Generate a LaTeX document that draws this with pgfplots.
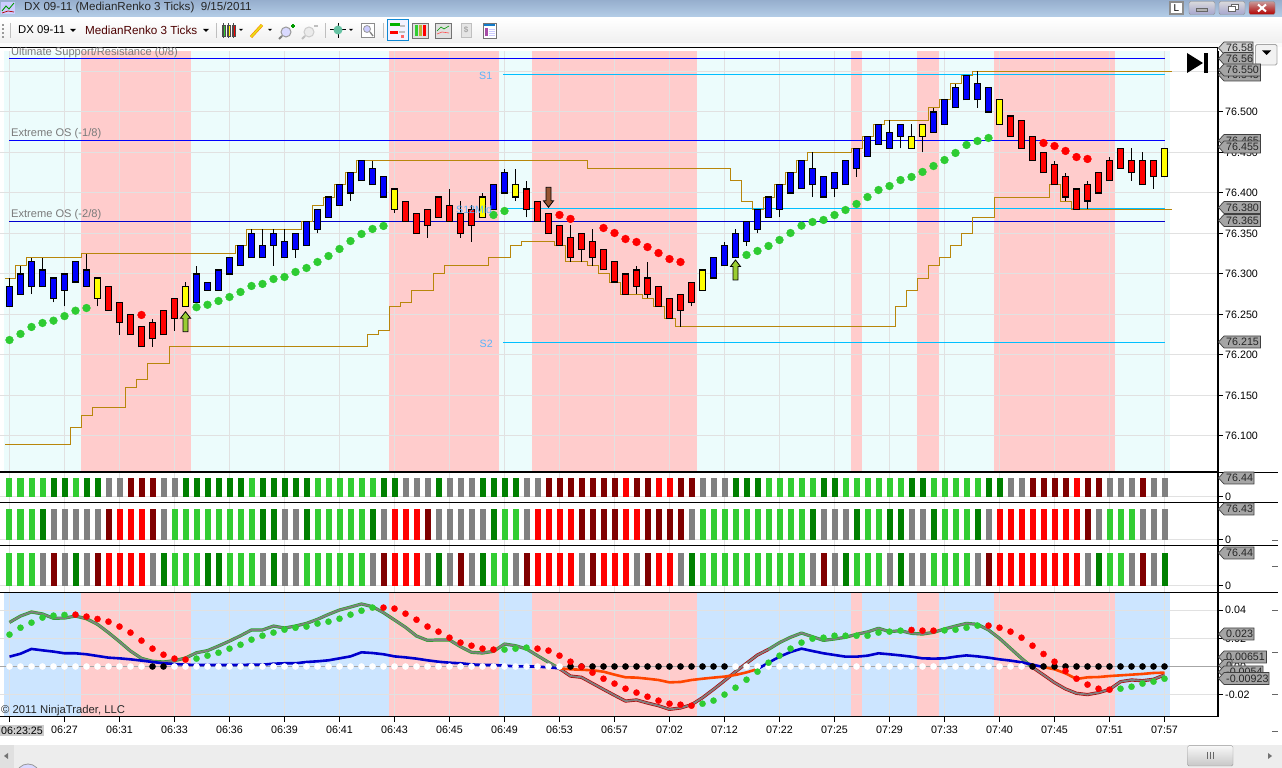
\documentclass[border=0pt]{standalone}
\usepackage{fontspec}
\usepackage{pgfplots}
\usepackage{pgfplotstable}
\pgfplotsset{compat=1.18}
\setmainfont{Liberation Sans}
\definecolor{pinkb}{RGB}{255,204,204}
\definecolor{cyanb}{RGB}{236,252,252}
\definecolor{blueb}{RGB}{204,229,255}
\definecolor{gridc}{RGB}{225,225,225}
\definecolor{gold}{RGB}{184,134,11}
\definecolor{sky}{RGB}{0,191,255}
\definecolor{lab}{RGB}{90,180,250}
\definecolor{dgreen}{RGB}{46,204,50}
\definecolor{cL}{RGB}{50,205,50}
\definecolor{cD}{RGB}{0,128,0}
\definecolor{cG}{RGB}{128,128,128}
\definecolor{cM}{RGB}{128,0,0}
\definecolor{cR}{RGB}{255,0,0}
\definecolor{orange1}{RGB}{255,69,0}
\definecolor{navy1}{RGB}{0,0,205}
\definecolor{tagc}{RGB}{165,165,165}
\definecolor{ygreen}{RGB}{154,205,50}
\definecolor{sienna1}{RGB}{150,85,50}
\definecolor{cc1}{RGB}{0,0,255}
\definecolor{cc2}{RGB}{255,0,0}
\definecolor{cc3}{RGB}{255,255,0}
\newcommand\tf{\fontsize{10.7}{12}\selectfont}

\pgfplotstableread{
i v
0 76.2185
1 76.226
2 76.2346
3 76.2395
4 76.2424
5 76.248
6 76.2547
7 76.258
17 76.259
18 76.262
19 76.2667
20 76.2716
21 76.2778
22 76.2852
23 76.2877
24 76.2938
25 76.2963
26 76.3025
27 76.3074
28 76.3148
29 76.3222
30 76.3309
31 76.3407
32 76.3494
33 76.3556
34 76.3593
44 76.3729
45 76.3778
67 76.3235
68 76.3284
69 76.3346
70 76.342
71 76.3506
72 76.3597
73 76.3642
74 76.3667
75 76.3728
76 76.379
77 76.3864
78 76.395
79 76.4037
80 76.4086
81 76.416
82 76.4198
83 76.426
84 76.4333
85 76.4407
86 76.4494
87 76.4593
88 76.4642
89 76.4679
}\greendots
\pgfplotstableread{
i v
12 76.2494
50 76.3729
51 76.368
54 76.3568
55 76.3506
56 76.3432
57 76.3395
58 76.3333
59 76.3259
60 76.3185
61 76.3148
94 76.4617
95 76.458
96 76.4519
97 76.4444
98 76.442
}\reddots

% colour codes of the three bar panels: 1 light green, 2 dark green, 3 grey, 4 maroon, 5 red
\pgfplotstableread{
i p q r
0 1 1 1
1 1 1 1
2 1 1 1
3 1 2 3
4 2 3 4
5 2 3 3
6 1 3 2
7 2 3 3
8 2 3 4
9 3 4 5
10 3 5 5
11 4 5 5
12 4 5 5
13 4 4 3
14 3 3 2
15 3 1 1
16 2 1 1
17 2 1 1
18 2 1 2
19 2 1 2
20 2 1 1
21 2 1 1
22 1 1 1
23 2 2 3
24 2 2 2
25 2 3 3
26 2 3 3
27 2 2 1
28 1 1 1
29 1 1 1
30 1 1 1
31 1 1 1
32 1 1 1
33 1 2 3
34 2 3 4
35 2 5 5
36 3 5 5
37 3 5 5
38 3 4 3
39 2 3 2
40 3 3 3
41 3 3 4
42 3 3 3
43 2 3 2
44 2 2 1
45 2 1 1
46 2 1 3
47 3 3 4
48 3 5 5
49 4 5 5
50 4 5 5
51 4 5 5
52 4 4 3
53 4 4 4
54 4 4 5
55 4 4 5
56 5 5 5
57 4 5 3
58 4 4 4
59 5 4 5
60 5 4 5
61 4 4 3
62 4 3 2
63 3 1 1
64 3 1 1
65 3 1 1
66 2 1 1
67 2 1 1
68 2 1 1
69 1 1 1
70 1 1 1
71 1 1 1
72 1 1 1
73 1 2 3
74 2 3 4
75 2 3 3
76 1 3 2
77 1 2 1
78 1 1 1
79 1 1 1
80 1 2 3
81 1 2 2
82 2 3 3
83 2 3 3
84 1 2 1
85 1 1 1
86 1 1 1
87 1 1 1
88 1 2 3
89 2 3 4
90 2 5 5
91 3 5 5
92 3 5 5
93 4 5 5
94 4 5 5
95 4 5 5
96 4 5 5
97 5 5 5
98 4 4 3
99 4 3 2
100 3 1 1
101 3 1 1
102 3 1 3
103 4 3 4
104 3 3 3
105 3 3 2
}\barcodes

% lower panel: m main line, s signal line, d dots, c dot colour, z zero-dot colour (0 white, 1 black)
\pgfplotstableread{
i m s d c z
0 .0314 .0070 .0227 1 0
1 .0359 .0091 .0276 1 0
2 .0388 .0125 .0312 1 0
3 .0374 .0115 .0348 1 0
4 .0343 .0106 .0362 1 0
5 .0345 .0094 .0367 1 0
6 .0359 .0094 .0369 2 0
7 .0340 .0087 .0355 2 0
8 .0300 .0075 .0338 2 0
9 .0241 .0063 .0319 2 0
10 .0177 .0058 .0284 2 0
11 .0110 .0051 .0241 2 0
12 .0058 .0042 .0184 2 0
13 .0037 .0032 .0127 2 1
14 .0032 .0023 .0084 2 1
15 .0042 .0018 .0056 2 0
16 .0060 .0013 .0049 2 0
17 .0098 .0011 .0056 1 0
18 .0113 .0011 .0077 1 0
19 .0146 .0011 .0098 1 0
20 .0181 .0011 .0127 1 0
21 .0219 .0011 .0155 1 0
22 .0260 .0013 .0191 1 0
23 .0260 .0013 .0219 1 0
24 .0288 .0020 .0241 1 0
25 .0274 .0023 .0262 1 0
26 .0288 .0023 .0276 1 0
27 .0307 .0032 .0284 1 0
28 .0336 .0037 .0305 1 0
29 .0371 .0044 .0319 1 0
30 .0402 .0058 .0340 1 0
31 .0423 .0072 .0369 1 0
32 .0445 .0101 .0397 1 0
33 .0426 .0096 .0419 1 0
34 .0383 .0087 .0419 2 0
35 .0331 .0072 .0412 2 0
36 .0279 .0065 .0376 2 0
37 .0217 .0056 .0333 2 0
38 .0186 .0044 .0284 2 0
39 .0189 .0034 .0248 2 0
40 .0189 .0027 .0205 2 0
41 .0141 .0023 .0170 2 0
42 .0101 .0015 .0148 2 0
43 .0096 .0011 .0127 2 0
44 .0108 .0011 .0120 2 0
45 .0160 .0006 .0120 1 0
46 .0148 .0001 .0127 1 0
47 .0125 .0001 .0134 1 0
48 .0077 -.0001 .0127 2 0
49 .0030 -.0006 .0113 2 0
50 -.0015 -.0013 .0077 2 0
51 -.0068 -.0020 .0034 2 1
52 -.0077 -.0023 -.0001 2 1
53 -.0120 -.0027 -.0044 2 1
54 -.0163 -.0037 -.0087 2 1
55 -.0205 -.0058 -.0122 2 1
56 -.0246 -.0077 -.0158 2 1
57 -.0238 -.0079 -.0186 2 1
58 -.0260 -.0087 -.0215 2 1
59 -.0279 -.0096 -.0243 2 1
60 -.0305 -.0113 -.0265 2 1
61 -.0295 -.0110 -.0272 2 1
62 -.0272 -.0096 -.0279 2 1
63 -.0222 -.0087 -.0265 1 1
64 -.0163 -.0079 -.0243 1 1
65 -.0101 -.0072 -.0200 1 1
66 -.0037 -.0060 -.0151 1 0
67 .0023 -.0042 -.0094 1 0
68 .0082 -.0018 -.0037 1 0
69 .0122 .0027 .0027 1 0
70 .0170 .0070 .0077 1 0
71 .0208 .0103 .0127 1 0
72 .0238 .0127 .0170 1 0
73 .0212 .0110 .0198 1 0
74 .0186 .0094 .0205 1 0
75 .0196 .0082 .0219 1 0
76 .0208 .0070 .0219 1 0
77 .0229 .0070 .0219 1 0
78 .0246 .0077 .0219 1 0
79 .0272 .0094 .0241 1 0
80 .0248 .0087 .0248 1 0
81 .0255 .0079 .0255 1 0
82 .0236 .0070 .0260 2 0
83 .0231 .0058 .0255 2 0
84 .0243 .0056 .0255 2 0
85 .0267 .0058 .0257 1 0
86 .0288 .0070 .0262 1 0
87 .0307 .0079 .0276 1 0
88 .0300 .0072 .0291 1 0
89 .0260 .0063 .0291 2 0
90 .0200 .0051 .0276 2 0
91 .0129 .0042 .0248 2 0
92 .0058 .0030 .0205 2 0
93 -.0006 .0013 .0148 2 1
94 -.0060 -.0004 .0089 2 1
95 -.0115 -.0020 .0034 2 1
96 -.0160 -.0049 -.0032 2 1
97 -.0191 -.0089 -.0087 2 1
98 -.0200 -.0077 -.0129 2 1
99 -.0186 -.0075 -.0158 2 1
100 -.0163 -.0068 -.0165 2 1
101 -.0108 -.0063 -.0158 1 1
102 -.0096 -.0058 -.0144 1 1
103 -.0101 -.0053 -.0122 1 1
104 -.0091 -.0046 -.0108 1 1
105 -.0060 -.0044 -.0087 1 1
}\osc

\pgfplotstableread{
x y
-0.38 76.295
0.53 76.31
1.53 76.32
6.53 76.325
20.53 76.335
21.53 76.355
26.53 76.365
27.53 76.385
28.53 76.395
29.53 76.41
30.53 76.425
31.53 76.44
52.53 76.43
65.53 76.415
66.53 76.39
67.53 76.38
68.53 76.395
69.53 76.41
70.53 76.425
71.53 76.44
72.53 76.45
76.53 76.455
77.53 76.47
78.53 76.485
79.53 76.49
83.53 76.505
84.53 76.515
85.53 76.535
86.53 76.545
87.53 76.55
105.65 76.55
}\upgold
\pgfplotstableread{
x y
-0.38 76.09
5.53 76.11
6.53 76.125
7.53 76.135
10.53 76.16
11.53 76.17
12.53 76.19
14.53 76.21
32.53 76.225
33.53 76.23
34.53 76.26
35.53 76.265
36.53 76.28
38.53 76.30
39.53 76.31
43.53 76.32
45.53 76.335
46.53 76.34
49.53 76.335
50.53 76.315
52.53 76.31
53.53 76.30
54.53 76.29
55.53 76.275
57.53 76.27
58.53 76.26
59.53 76.245
60.53 76.235
80.53 76.26
81.53 76.28
82.53 76.295
83.53 76.31
84.53 76.32
85.53 76.335
86.53 76.35
87.53 76.37
89.53 76.395
94.53 76.41
95.53 76.39
96.53 76.38
105.65 76.38
}\logold

\pgfdeclareplotmark{uparr}{\pgfpathmoveto{\pgfpoint{0pt}{0pt}}\pgfpathlineto{\pgfpoint{5pt}{-6.5pt}}\pgfpathlineto{\pgfpoint{2.5pt}{-6.5pt}}\pgfpathlineto{\pgfpoint{2.5pt}{-20pt}}\pgfpathlineto{\pgfpoint{-2.5pt}{-20pt}}\pgfpathlineto{\pgfpoint{-2.5pt}{-6.5pt}}\pgfpathlineto{\pgfpoint{-5pt}{-6.5pt}}\pgfpathclose\pgfusepathqfillstroke}
\pgfdeclareplotmark{dnarr}{\pgfpathmoveto{\pgfpoint{0pt}{0pt}}\pgfpathlineto{\pgfpoint{5pt}{6.5pt}}\pgfpathlineto{\pgfpoint{2.5pt}{6.5pt}}\pgfpathlineto{\pgfpoint{2.5pt}{20pt}}\pgfpathlineto{\pgfpoint{-2.5pt}{20pt}}\pgfpathlineto{\pgfpoint{-2.5pt}{6.5pt}}\pgfpathlineto{\pgfpoint{-5pt}{6.5pt}}\pgfpathclose\pgfusepathqfillstroke}

\pgfplotsset{pane/.style={scale only axis,width=1218pt,xmin=-0.8636,xmax=109.8636,
  axis x line=bottom,axis y line=right,axis line style={-,line width=1pt,black},
  xtick={0,5,...,105},xmajorgrids,ymajorgrids,major grid style={line width=1pt,color=gridc},
  tick style={line width=1pt,black},major tick length=5pt,tick align=outside,
  tick label style={font=\tf,inner sep=0pt},
  /pgf/number format/assume math mode=true,scaled y ticks=false,
  yticklabel style={anchor=west,xshift=2pt}},
  noxt/.style={xticklabels={},xtick style={draw=none}},
  bg/.style={scale only axis,width=1218pt,xmin=-0.8636,xmax=109.8636,hide axis},
  dotm/.style={only marks,mark=*,mark size=#1,forget plot}}
\newcommand\band[5]{\addplot[fill=#5,draw=none,forget plot] coordinates {(#1,#3)(#2,#3)(#2,#4)(#1,#4)};}
\newcommand\bands[3]{% ylo yhi base colour
 \band{-0.5}{105.5}{#1}{#2}{#3}
 \band{6.5}{16.5}{#1}{#2}{pinkb}\band{34.5}{44.5}{#1}{#2}{pinkb}\band{47.5}{62.5}{#1}{#2}{pinkb}
 \band{76.5}{77.5}{#1}{#2}{pinkb}\band{82.5}{84.5}{#1}{#2}{pinkb}\band{89.5}{100.5}{#1}{#2}{pinkb}}
% one candle: index, type (1 blue, 2 red, 3 yellow), body low, body high, wick low, wick high
\newcommand\cdl[6]{%
 \addplot[black,line width=1pt,forget plot] coordinates {(#1,#5)(#1,#6)};
 \addplot[black,line width=7pt,shorten >=-.55pt,shorten <=-.55pt,forget plot] coordinates {(#1,#3)(#1,#4)};
 \addplot[cc#2,line width=4.8pt,shorten >=.6pt,shorten <=.6pt,forget plot] coordinates {(#1,#3)(#1,#4)};}
\newcommand\barset[2]{%
 \addplot[ycomb,line width=6pt,color=cL,forget plot] table[x=i,y expr={\thisrow{#1}==1 ? #2 : nan}]{\barcodes};
 \addplot[ycomb,line width=6pt,color=cD,forget plot] table[x=i,y expr={\thisrow{#1}==2 ? #2 : nan}]{\barcodes};
 \addplot[ycomb,line width=6pt,color=cG,forget plot] table[x=i,y expr={\thisrow{#1}==3 ? #2 : nan}]{\barcodes};
 \addplot[ycomb,line width=6pt,color=cM,forget plot] table[x=i,y expr={\thisrow{#1}==4 ? #2 : nan}]{\barcodes};
 \addplot[ycomb,line width=6pt,color=cR,forget plot] table[x=i,y expr={\thisrow{#1}==5 ? #2 : nan}]{\barcodes};}
\newcommand\tagb[4]{\filldraw[fill=#4,draw=black!75,line width=.7pt] (1218.5,#2) -- (1224,#2-6) -- (#1,#2-6) -- (#1,#2+6) -- (1224,#2+6) -- cycle;
 \node[anchor=west,inner sep=0pt,font=\tf,text=black!85] at (1226,#2) {#3};}

\begin{document}
\begin{tikzpicture}
\useasboundingbox (0,0) rectangle (1282pt,768pt);

% ---------- backgrounds
\begin{axis}[bg,at={(0pt,296pt)},height=421pt,ymin=76.05556,ymax=76.57531]
\bands{76.05556}{76.57531}{cyanb}
\end{axis}
\begin{axis}[bg,at={(0pt,51pt)},height=124.7pt,ymin=-0.03594,ymax=0.05281]
\bands{-0.03594}{0.05281}{blueb}
\end{axis}

% ---------- main price panel
\begin{axis}[pane,noxt,at={(0pt,296pt)},height=421pt,ymin=76.05556,ymax=76.57531,
  ytick={76.1,76.15,76.2,76.25,76.3,76.35,76.4,76.45,76.5,76.55},
  yticklabel style={/pgf/number format/fixed,/pgf/number format/fixed zerofill,/pgf/number format/precision=3}]
\addplot[color=cc1,line width=1.1pt,forget plot] coordinates {(0,76.5663)(105,76.5663)};
\addplot[color=cc1,line width=1.1pt,forget plot] coordinates {(0,76.465)(105,76.465)};
\addplot[navy1,line width=1pt,forget plot] coordinates {(0,76.365)(105,76.365)};
\addplot[sky,line width=1pt,forget plot] coordinates {(44.9,76.5463)(105,76.5463)};
\addplot[sky,line width=1pt,forget plot] coordinates {(44.9,76.3806)(105,76.3806)};
\addplot[sky,line width=1pt,forget plot] coordinates {(44.9,76.2157)(105,76.2157)};
\addplot[const plot,gold,line width=1pt,forget plot] table[x=x,y=y]{\upgold};
\addplot[const plot,gold,line width=1pt,forget plot] table[x=x,y=y]{\logold};
\cdl{0}{1}{76.26}{76.285}{76.26}{76.295}
\cdl{1}{1}{76.275}{76.30}{76.275}{76.31}
\cdl{2}{1}{76.285}{76.315}{76.275}{76.32}
\cdl{3}{1}{76.285}{76.305}{76.285}{76.32}
\cdl{4}{1}{76.27}{76.295}{76.265}{76.295}
\cdl{5}{1}{76.28}{76.30}{76.26}{76.30}
\cdl{6}{1}{76.29}{76.315}{76.29}{76.315}
\cdl{7}{1}{76.285}{76.305}{76.285}{76.325}
\cdl{8}{3}{76.27}{76.295}{76.26}{76.295}
\cdl{9}{2}{76.255}{76.285}{76.255}{76.285}
\cdl{10}{2}{76.24}{76.265}{76.225}{76.265}
\cdl{11}{2}{76.225}{76.25}{76.225}{76.25}
\cdl{12}{2}{76.21}{76.235}{76.21}{76.235}
\cdl{13}{2}{76.22}{76.24}{76.21}{76.245}
\cdl{14}{2}{76.225}{76.255}{76.225}{76.255}
\cdl{15}{2}{76.245}{76.27}{76.23}{76.27}
\cdl{16}{3}{76.26}{76.285}{76.26}{76.29}
\cdl{17}{1}{76.265}{76.30}{76.265}{76.31}
\cdl{18}{1}{76.28}{76.29}{76.28}{76.29}
\cdl{19}{1}{76.28}{76.305}{76.28}{76.305}
\cdl{20}{1}{76.30}{76.32}{76.30}{76.32}
\cdl{21}{1}{76.31}{76.335}{76.31}{76.335}
\cdl{22}{1}{76.32}{76.35}{76.32}{76.355}
\cdl{23}{1}{76.32}{76.335}{76.32}{76.355}
\cdl{24}{1}{76.335}{76.35}{76.31}{76.355}
\cdl{25}{1}{76.32}{76.34}{76.32}{76.355}
\cdl{26}{1}{76.33}{76.35}{76.32}{76.35}
\cdl{27}{1}{76.335}{76.365}{76.335}{76.365}
\cdl{28}{1}{76.355}{76.38}{76.35}{76.38}
\cdl{29}{1}{76.37}{76.395}{76.37}{76.395}
\cdl{30}{1}{76.385}{76.41}{76.385}{76.41}
\cdl{31}{1}{76.40}{76.425}{76.39}{76.425}
\cdl{32}{1}{76.415}{76.44}{76.415}{76.44}
\cdl{33}{1}{76.41}{76.43}{76.41}{76.44}
\cdl{34}{1}{76.395}{76.42}{76.395}{76.42}
\cdl{35}{3}{76.38}{76.405}{76.375}{76.405}
\cdl{36}{2}{76.365}{76.39}{76.365}{76.39}
\cdl{37}{2}{76.35}{76.375}{76.35}{76.375}
\cdl{38}{2}{76.36}{76.38}{76.345}{76.38}
\cdl{39}{2}{76.37}{76.395}{76.37}{76.395}
\cdl{40}{2}{76.365}{76.385}{76.365}{76.405}
\cdl{41}{2}{76.35}{76.375}{76.345}{76.39}
\cdl{42}{2}{76.36}{76.38}{76.34}{76.385}
\cdl{43}{3}{76.37}{76.395}{76.37}{76.40}
\cdl{44}{1}{76.38}{76.41}{76.38}{76.41}
\cdl{45}{1}{76.40}{76.425}{76.40}{76.43}
\cdl{46}{3}{76.395}{76.41}{76.39}{76.43}
\cdl{47}{2}{76.38}{76.405}{76.37}{76.415}
\cdl{48}{2}{76.365}{76.39}{76.365}{76.39}
\cdl{49}{2}{76.35}{76.375}{76.35}{76.375}
\cdl{50}{2}{76.335}{76.36}{76.335}{76.36}
\cdl{51}{2}{76.32}{76.345}{76.315}{76.36}
\cdl{52}{2}{76.33}{76.35}{76.315}{76.35}
\cdl{53}{2}{76.32}{76.34}{76.31}{76.355}
\cdl{54}{2}{76.305}{76.33}{76.305}{76.33}
\cdl{55}{2}{76.29}{76.315}{76.29}{76.315}
\cdl{56}{2}{76.275}{76.30}{76.275}{76.30}
\cdl{57}{2}{76.285}{76.305}{76.275}{76.31}
\cdl{58}{2}{76.275}{76.295}{76.27}{76.315}
\cdl{59}{2}{76.26}{76.285}{76.26}{76.285}
\cdl{60}{2}{76.245}{76.27}{76.245}{76.27}
\cdl{61}{2}{76.255}{76.275}{76.235}{76.275}
\cdl{62}{2}{76.265}{76.29}{76.26}{76.29}
\cdl{63}{3}{76.28}{76.305}{76.28}{76.305}
\cdl{64}{1}{76.295}{76.32}{76.295}{76.32}
\cdl{65}{1}{76.31}{76.335}{76.31}{76.34}
\cdl{66}{1}{76.32}{76.35}{76.32}{76.355}
\cdl{67}{1}{76.34}{76.365}{76.335}{76.365}
\cdl{68}{1}{76.355}{76.38}{76.35}{76.38}
\cdl{69}{1}{76.37}{76.395}{76.37}{76.395}
\cdl{70}{1}{76.38}{76.41}{76.37}{76.41}
\cdl{71}{1}{76.40}{76.425}{76.40}{76.425}
\cdl{72}{1}{76.405}{76.44}{76.405}{76.44}
\cdl{73}{1}{76.41}{76.43}{76.395}{76.45}
\cdl{74}{1}{76.395}{76.42}{76.395}{76.42}
\cdl{75}{1}{76.405}{76.425}{76.395}{76.425}
\cdl{76}{1}{76.41}{76.44}{76.41}{76.44}
\cdl{77}{1}{76.43}{76.455}{76.42}{76.455}
\cdl{78}{1}{76.445}{76.47}{76.445}{76.47}
\cdl{79}{1}{76.46}{76.485}{76.46}{76.485}
\cdl{80}{1}{76.455}{76.475}{76.455}{76.49}
\cdl{81}{1}{76.47}{76.485}{76.455}{76.485}
\cdl{82}{3}{76.455}{76.47}{76.455}{76.485}
\cdl{83}{3}{76.47}{76.485}{76.45}{76.485}
\cdl{84}{1}{76.475}{76.50}{76.475}{76.505}
\cdl{85}{1}{76.485}{76.515}{76.485}{76.515}
\cdl{86}{1}{76.505}{76.53}{76.505}{76.535}
\cdl{87}{1}{76.515}{76.545}{76.515}{76.545}
\cdl{88}{1}{76.515}{76.535}{76.505}{76.55}
\cdl{89}{1}{76.50}{76.53}{76.50}{76.53}
\cdl{90}{3}{76.485}{76.515}{76.485}{76.515}
\cdl{91}{2}{76.47}{76.495}{76.47}{76.495}
\cdl{92}{2}{76.455}{76.49}{76.455}{76.49}
\cdl{93}{2}{76.44}{76.47}{76.44}{76.47}
\cdl{94}{2}{76.425}{76.45}{76.425}{76.45}
\cdl{95}{2}{76.41}{76.435}{76.41}{76.44}
\cdl{96}{2}{76.395}{76.42}{76.39}{76.425}
\cdl{97}{2}{76.38}{76.405}{76.38}{76.405}
\cdl{98}{2}{76.39}{76.41}{76.38}{76.415}
\cdl{99}{2}{76.40}{76.425}{76.40}{76.425}
\cdl{100}{2}{76.415}{76.44}{76.415}{76.445}
\cdl{101}{2}{76.43}{76.455}{76.43}{76.455}
\cdl{102}{2}{76.425}{76.44}{76.415}{76.455}
\cdl{103}{2}{76.41}{76.44}{76.41}{76.45}
\cdl{104}{2}{76.42}{76.44}{76.405}{76.44}
\cdl{105}{3}{76.42}{76.455}{76.42}{76.455}
\addplot[dotm=3.9pt,mark options={draw=dgreen,fill=dgreen,line width=.4pt}] table[x=i,y=v]{\greendots};
\addplot[dotm=3.9pt,mark options={draw=red,fill=red,line width=.4pt}] table[x=i,y=v]{\reddots};
\addplot[only marks,mark=uparr,mark options={fill=ygreen,draw=black,line width=.8pt},forget plot] coordinates {(16,76.2535)(66,76.3173)};
\addplot[only marks,mark=dnarr,mark options={fill=sienna1,draw=black,line width=.8pt},forget plot] coordinates {(49,76.3823)};
\end{axis}

% ---------- three bar panels
\begin{axis}[pane,noxt,at={(0pt,265.7pt)},height=30pt,ymin=-22.9,ymax=99.74,ytick={0},yticklabels={0}]
\barset{p}{76.44}
\end{axis}
\begin{axis}[pane,noxt,at={(0pt,222pt)},height=43.7pt,ymin=-14.79,ymax=92.95,ytick={0},yticklabels={0}]
\barset{q}{76.43}
\end{axis}
\begin{axis}[pane,noxt,at={(0pt,175.7pt)},height=46.3pt,ymin=-14.59,ymax=92.65,ytick={0},yticklabels={0}]
\barset{r}{76.44}
\end{axis}

% ---------- oscillator panel
\begin{axis}[pane,at={(0pt,51pt)},height=124.7pt,ymin=-0.03594,ymax=0.05281,
  ytick={-0.02,0,0.02,0.04},
  yticklabel style={/pgf/number format/fixed,/pgf/number format/fixed zerofill,/pgf/number format/precision=2},
  xticklabels={,06:27,06:31,06:33,06:36,06:39,06:41,06:43,06:45,06:49,06:53,06:57,07:02,07:12,07:22,07:25,07:29,07:33,07:40,07:45,07:51,07:57},
  xticklabel style={yshift=-4pt}]
\addplot[dotm=3.1pt,mark options={draw=white,fill=white,line width=.3pt}] table[x=i,y expr={\thisrow{z}==0 ? 0 : nan}]{\osc};
\addplot[dotm=3.1pt,mark options={draw=black,fill=black,line width=.3pt}] table[x=i,y expr={\thisrow{z}==1 ? 0 : nan}]{\osc};
\addplot[color=black!35,line width=1pt,forget plot] coordinates {(-0.86,0)(109.86,0)};
\addplot[color=cL!80!black,line width=3.2pt,line join=round,restrict x to domain=0:50,forget plot] table[x=i,y=m]{\osc};
\addplot[color=red!70!black,line width=3.2pt,line join=round,restrict x to domain=50:69,forget plot] table[x=i,y=m]{\osc};
\addplot[color=cL!80!black,line width=3.2pt,line join=round,restrict x to domain=69:93,forget plot] table[x=i,y=m]{\osc};
\addplot[color=red!70!black,line width=3.2pt,line join=round,restrict x to domain=93:105,forget plot] table[x=i,y=m]{\osc};
\addplot[color=cG,line width=1.9pt,line join=round,forget plot] table[x=i,y=m]{\osc};
\addplot[color=navy1,line width=2.6pt,restrict x to domain=0:50,forget plot] table[x=i,y=s]{\osc};
\addplot[color=orange1,line width=2.6pt,restrict x to domain=50:68,forget plot] table[x=i,y=s]{\osc};
\addplot[color=navy1,line width=2.6pt,restrict x to domain=68:94,forget plot] table[x=i,y=s]{\osc};
\addplot[color=orange1,line width=2.6pt,restrict x to domain=94:105,forget plot] table[x=i,y=s]{\osc};
\addplot[dotm=3.1pt,mark options={draw=dgreen,fill=dgreen,line width=.3pt}] table[x=i,y expr={\thisrow{c}==1 ? \thisrow{d} : nan}]{\osc};
\addplot[dotm=3.1pt,mark options={draw=red,fill=red,line width=.3pt}] table[x=i,y expr={\thisrow{c}==2 ? \thisrow{d} : nan}]{\osc};
\end{axis}

% ---------- window chrome, labels and tags (pixel coordinates, y downwards)
\begin{scope}[shift={(0pt,768pt)},x=1pt,y=-1pt]
\shade[top color={rgb,255:red,150;green,174;blue,205},bottom color={rgb,255:red,182;green,207;blue,233}] (0,0) rectangle (1282,18);
\shade[top color=white,bottom color=black!6] (0,18) rectangle (1282,43);
\fill[black!2] (0,43) rectangle (1282,47);
\draw[black,line width=1pt] (0,47.3) -- (1217.7,47.3);
\foreach \y in {472.3,502.3,546,592.3} \draw[black,line width=1pt] (0,\y) -- (1278,\y);
\draw[black,line width=1pt] (1217.7,47) -- (1217.7,717);
% title bar
\node[anchor=west,inner sep=0pt,font=\fontsize{11.6}{13}\selectfont,text=black!85] at (24,8) {DX 09-11 (MedianRenko 3 Ticks)\ \ 9/15/2011};
\fill[white!80!blue] (1,2) rectangle (15,14);
\draw[green!60!black,line width=.9pt] (2,11) -- (6,6) -- (9,9) -- (14,3);
\draw[red!70!black,line width=.7pt] (2,13) -- (8,11) -- (14,12);
% toolbar text
\node[anchor=west,inner sep=0pt,font=\fontsize{11.3}{13}\selectfont] at (18,30) {DX 09-11};
\node[anchor=west,inner sep=0pt,font=\fontsize{11.7}{13}\selectfont,text=black!70!red] at (85,30) {MedianRenko 3 Ticks};
\fill[black] (70,29) -- (76,29) -- (73,32) -- cycle;
\fill[black] (203,29) -- (209,29) -- (206,32) -- cycle;
\foreach \x in {216,325,383} \draw[black!25,line width=1pt] (\x,23) -- (\x,38);
\draw[black!25,line width=1pt] (10,23) -- (10,38);
\foreach \y in {24,28,32,36} \fill[black!40] (2,\y) rectangle (3.5,\y+2);
% toolbar icons
\foreach \x/\c in {222/cL,227/yellow,232/red} {\filldraw[fill=\c,draw=black!70,line width=.5pt] (\x,25) rectangle (\x+3.5,36);\draw[black!70,line width=.5pt] (\x+1.7,23) -- (\x+1.7,38);}
\fill[black] (239,29) -- (243,29) -- (241,31) -- cycle;
\draw[orange,line width=3pt] (251,37) -- (262,25);
\draw[yellow!90!black,line width=1.8pt] (251,37) -- (262,25);
\fill[black] (268,29) -- (272,29) -- (270,31) -- cycle;
\draw[black!40,line width=1pt,fill=blue!15] (286,32) circle (5);
\draw[black!50,line width=2pt] (282,36) -- (279,39);
\draw[green!60!black,line width=1.4pt] (291,26) -- (295,26) (293,24) -- (293,28);
\draw[black!20,line width=1pt,fill=black!8] (309,32) circle (5);
\draw[black!25,line width=2pt] (305,36) -- (302,39);
\draw[black!25,line width=1.4pt] (314,26) -- (318,26);
\draw[black,line width=1pt] (338,23) -- (338,38) (330,30) -- (346,30);
\fill[blue!40!green!60] (338,30) circle (4.5);
\fill[black] (349,29) -- (353,29) -- (351,31) -- cycle;
\filldraw[fill=white,draw=black!45,line width=.7pt] (361,23) rectangle (374,37);
\draw[black!40,line width=.8pt,fill=blue!20] (367,29) circle (3.5);
\draw[black!50,line width=1.3pt] (370,32) -- (373,36);
\filldraw[fill=blue!5,draw=cyan!70!blue,line width=1pt] (387,19.5) rectangle (408.5,40.5);
\fill[green!70!black] (390,23) rectangle (400,26);\fill[black!25] (400,25) rectangle (405,27);
\fill[red] (390,31) rectangle (398,34);\fill[black!25] (399,31) rectangle (405,33);
\fill[red!60] (401,35) rectangle (404,38);
\filldraw[fill=black!12,draw=black!55,line width=.8pt] (412,23) rectangle (428,38);
\foreach \x/\c in {415/cL,419/yellow!70!black,423/red} \fill[\c] (\x,25) rectangle (\x+3,36);
\filldraw[fill=black!12,draw=black!55,line width=.8pt] (435,23) rectangle (451,38);
\draw[green!60!black,line width=.6pt] (437,31) -- (441,27) -- (444,29) -- (449,26);
\draw[red!70,line width=.6pt] (437,34) -- (442,32) -- (449,33);
\filldraw[fill=black!10,draw=black!25,line width=.8pt] (461,23) rectangle (471,37);
\node[inner sep=0pt,font=\fontsize{8}{9}\selectfont\bfseries,text=black!35] at (466,30) {\$};
\filldraw[fill=white,draw=black!55,line width=.8pt] (483,23) rectangle (496,38);
\fill[cyan!60!blue] (484,24.5) rectangle (495,26.5);\fill[violet!70] (485,28) rectangle (487.5,36.5);
\foreach \y in {29,31,33,35} \fill[blue!20] (489,\y) rectangle (494.5,\y+1);
% window buttons
\filldraw[fill=white,draw=black!45,line width=1.5pt] (1170,2) rectangle (1183,14);
\node[inner sep=0pt,font=\fontsize{10}{11}\selectfont] at (1176.5,8) {L};
\foreach \x in {1189,1219}{\shade[top color=blue!8!black!15,bottom color=blue!45!black!35,rounded corners=2pt,draw=black!45] (\x,1.5) rectangle (\x+26,14.5);}
\filldraw[fill=white!70!black,draw=black!60,line width=.5pt] (1196,8.5) rectangle (1207,11.5);
\filldraw[fill=white,draw=black!60,line width=.6pt] (1231,4) rectangle (1238,9);
\filldraw[fill=white,draw=black!60,line width=.6pt] (1228,6.5) rectangle (1235,11.5);
\shade[top color=red!45!black!40,bottom color=red!70!black,rounded corners=2pt,draw=black!45] (1249,1.5) rectangle (1275,14.5);
\draw[white,line width=2pt] (1258,4.5) -- (1266,11.5) (1266,4.5) -- (1258,11.5);
% chart-trader style buttons
\fill[black] (1187,53) -- (1203,63) -- (1187,73) -- cycle;
\fill[black] (1204,53) rectangle (1208,73);
\filldraw[fill=black!5,draw=black!35,line width=.8pt,rounded corners=1.5pt] (1255.5,44.5) rectangle (1277,65);
\fill[black] (1262,50.5) -- (1271,50.5) -- (1266.5,55) -- cycle;
% level labels
\node[anchor=west,inner sep=0pt,font=\fontsize{11.1}{12}\selectfont,text=black!52] at (11,52.5) {Ultimate Support/Resistance (0/8)};
\node[anchor=west,inner sep=0pt,font=\fontsize{11.1}{12}\selectfont,text=black!52] at (11,134) {Extreme OS (-1/8)};
\node[anchor=west,inner sep=0pt,font=\fontsize{11.1}{12}\selectfont,text=black!52] at (11,215) {Extreme OS (-2/8)};
\node[anchor=west,inner sep=0pt,font=\fontsize{10.6}{12}\selectfont,text=lab] at (479,75.5) {S1};
\node[anchor=west,inner sep=0pt,font=\fontsize{10.6}{12}\selectfont,text=lab] at (456,209.5) {S12Mid};
\node[anchor=west,inner sep=0pt,font=\fontsize{10.6}{12}\selectfont,text=lab] at (479.5,343.5) {S2};
\node[anchor=west,inner sep=0pt,font=\fontsize{11.3}{12}\selectfont,text=black!85] at (1,711) {\textcopyright\ 2011 NinjaTrader, LLC};
% first time label
\fill[black!20] (0,725) rectangle (44,736);
\node[anchor=west,inner sep=0pt,font=\tf] at (1,730.5) {06:23:25};
% tags
\tagb{1253}{48}{76.58}{black!20}
\tagb{1253}{58.5}{76.56}{tagc}
\tagb{1260.5}{75}{76.545}{tagc}
\tagb{1260.5}{70}{76.550}{tagc}
\tagb{1260.5}{140.5}{76.465}{tagc}
\tagb{1260.5}{147}{76.455}{tagc}
\tagb{1260.5}{207.5}{76.380}{tagc}
\tagb{1260.5}{220.5}{76.365}{tagc}
\tagb{1260.5}{342}{76.215}{tagc}
\tagb{1254}{478}{76.44}{tagc}
\tagb{1254}{509}{76.43}{tagc}
\tagb{1254}{553}{76.44}{tagc}
\tagb{1254}{634}{0.023}{tagc}
\tagb{1266.5}{657}{0.00651}{tagc}
\tagb{1232}{665.5}{0}{tagc}
\tagb{1263}{672}{-0.0054}{tagc}
\tagb{1269}{678.5}{-0.00923}{tagc}
% stray scale ticks at the right border
\foreach \y in {567,541,610.5,653,695,732} \draw[black!60,line width=1pt] (1272,\y) -- (1278,\y);
% bottom strip
\fill[black!7] (0,745) rectangle (1282,768);
\fill[black!12] (0,745) rectangle (14,768);
\fill[black!55] (8,753) -- (4,756) -- (8,759) -- cycle;
\fill[black!55] (1268,753) -- (1272,756) -- (1268,759) -- cycle;
\shade[top color=black!3,bottom color=black!22,draw=black!40,rounded corners=1.5pt] (1187.5,745.7) rectangle (1233,766);
\foreach \x in {1207,1210,1213} \draw[black!60,line width=1pt] (\x,752) -- (\x,759);
\draw[black!40,fill=blue!15,line width=.8pt] (28,776) circle (12);
\end{scope}
\end{tikzpicture}
\end{document}
